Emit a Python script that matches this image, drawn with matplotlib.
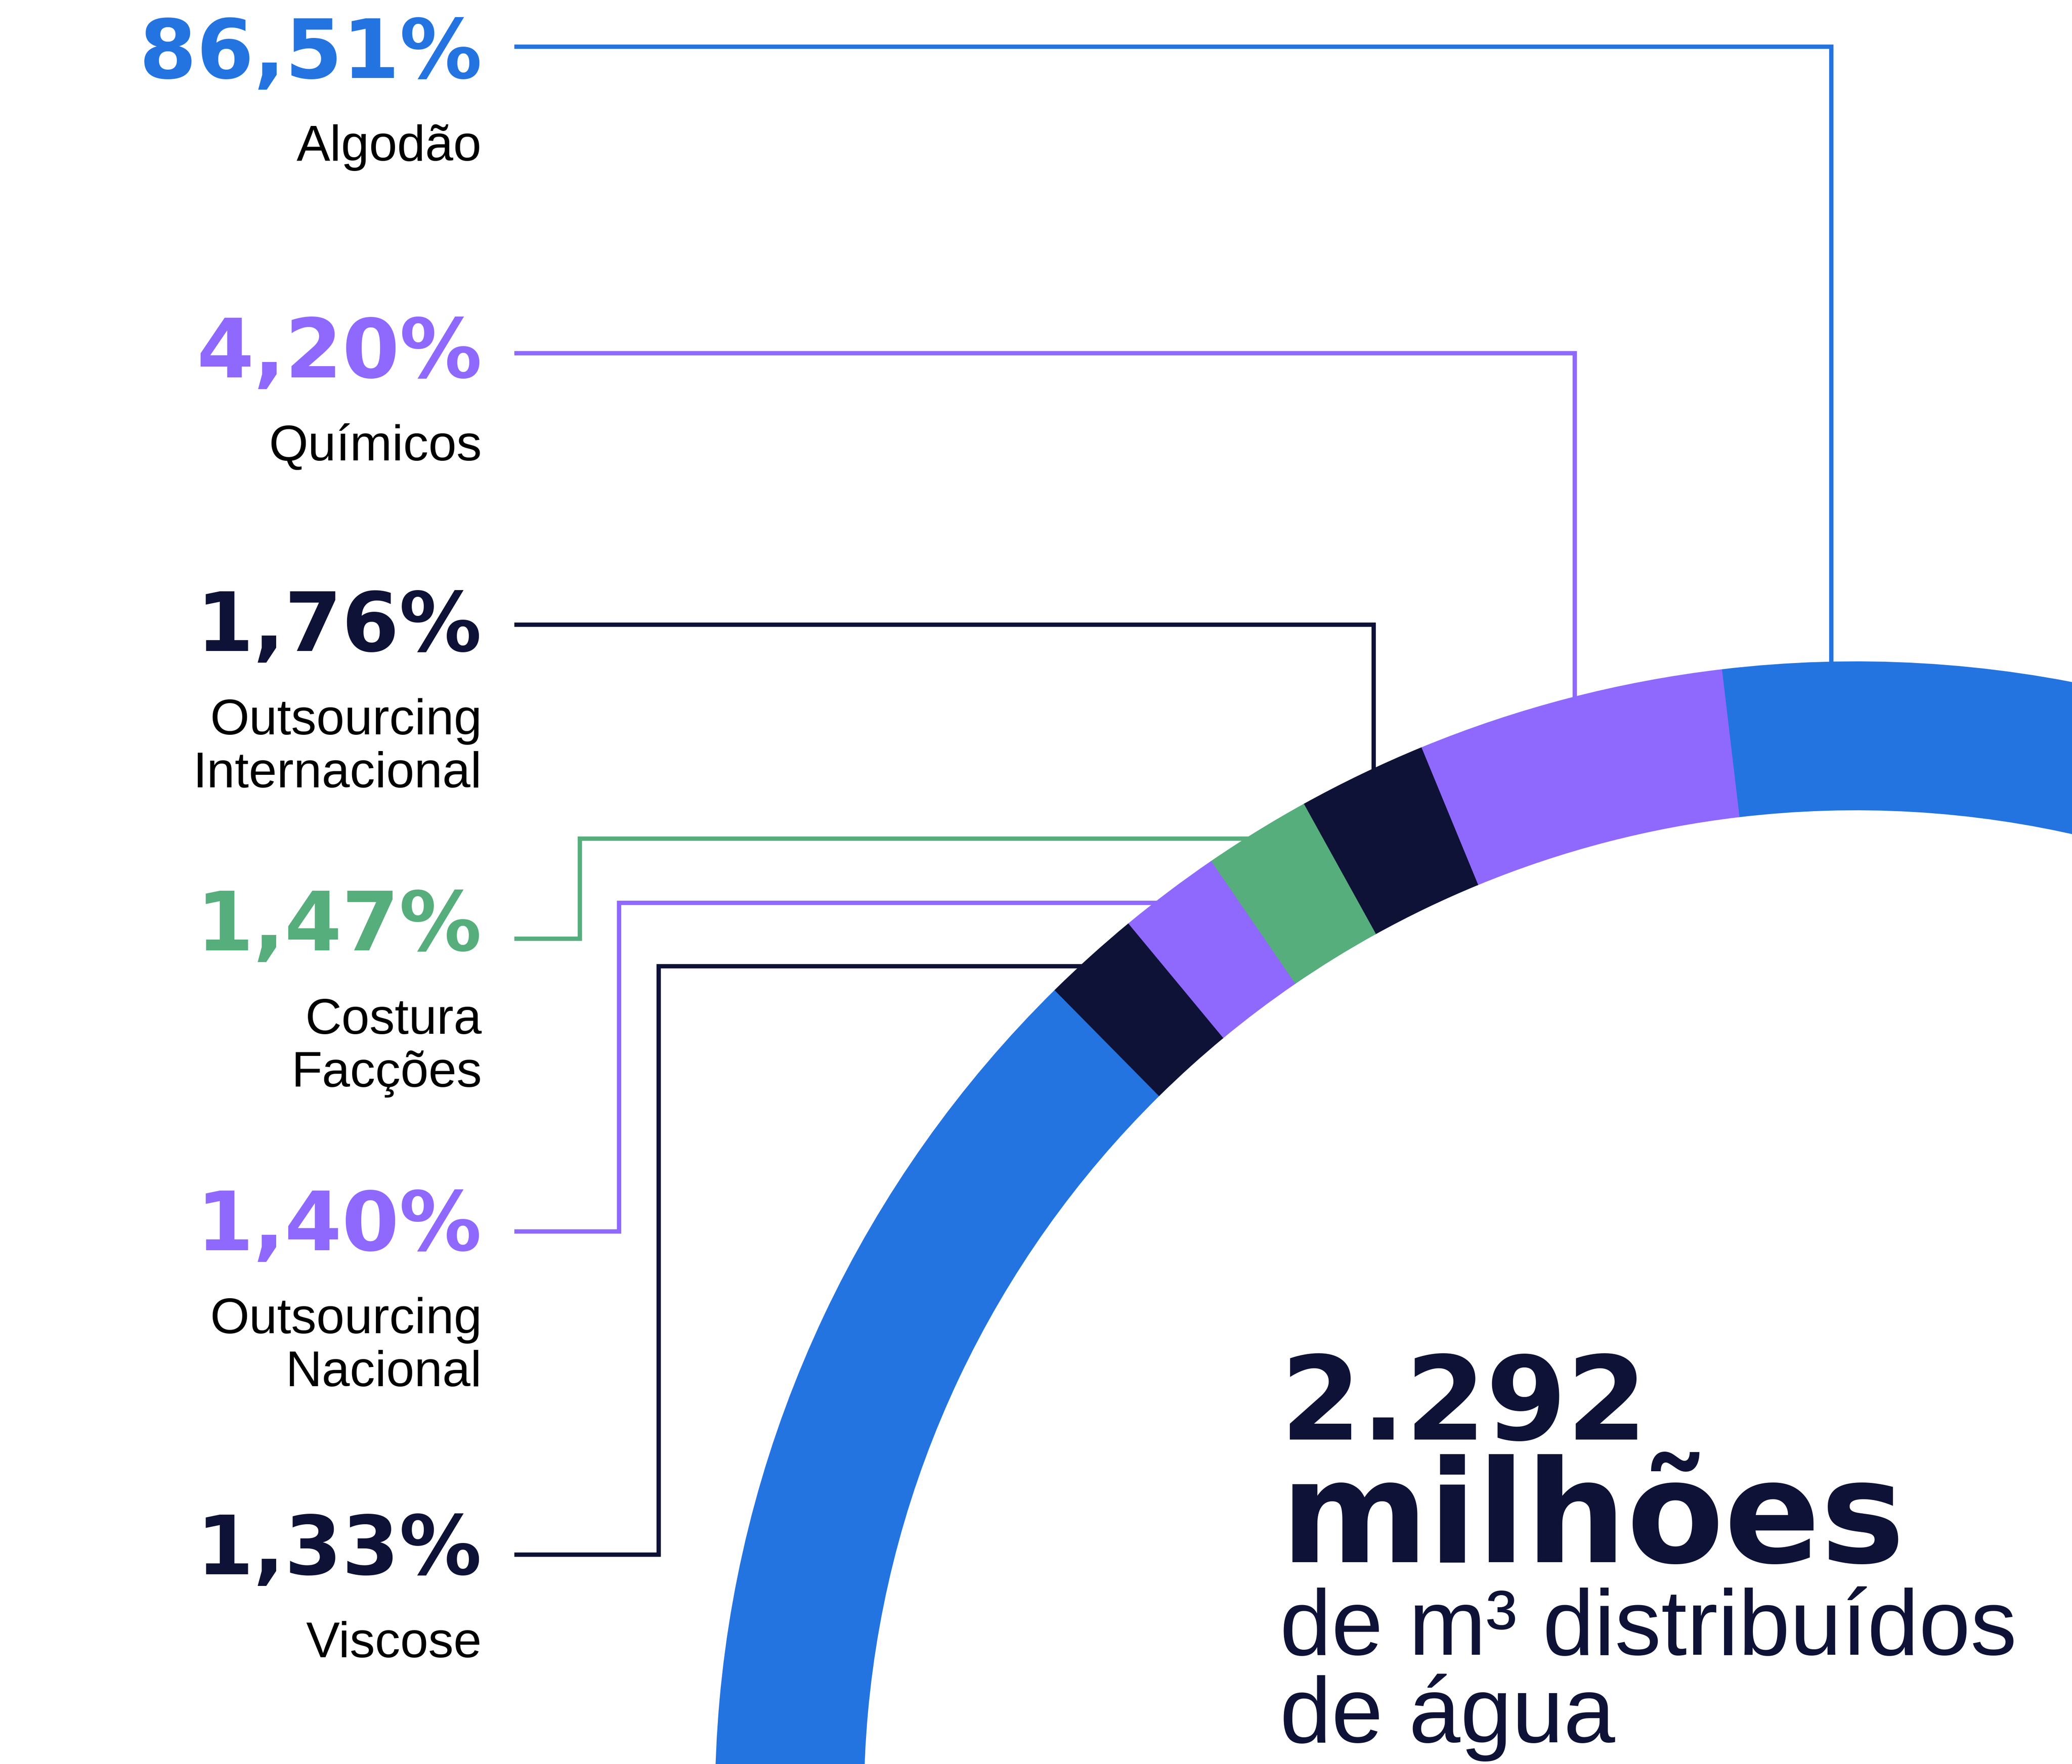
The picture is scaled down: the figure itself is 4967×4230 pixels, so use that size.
import numpy as np
import matplotlib.pyplot as plt

# Participação de cada etapa no consumo de água (%)
categorias = ["Algodão", "Químicos", "Outsourcing Internacional",
              "Costura Facções", "Outsourcing Nacional", "Viscose"]
participacao = [86.51, 4.20, 1.76, 1.47, 1.40, 1.33]
rotulos = [["Algodão"], ["Químicos"], ["Outsourcing", "Internacional"],
           ["Costura", "Facções"], ["Outsourcing", "Nacional"], ["Viscose"]]
total_milhoes_m3 = 2292

cores = ["#2374E1", "#8F69FE", "#0E1236", "#56AE7C", "#8F69FE", "#0E1236"]
azul_escuro = "#0E1236"

W, H = 4967, 4230
fig = plt.figure(figsize=(W / 100, H / 100), dpi=100)
ax = fig.add_axes([0, 0, 1, 1])

# anel (coordenadas em pixels, y cresce para baixo)
cx, cy = 4449, 4321
r_ext, espessura = 2734, 355
fatias, _ = ax.pie(participacao, colors=cores, center=(cx, cy), radius=r_ext,
                   startangle=-134.6, counterclock=False,
                   wedgeprops=dict(width=espessura, linewidth=1.5))
for f in fatias:
    f.set_edgecolor(f.get_facecolor())
    f.set_zorder(3)

ax.set_xlim(0, W)
ax.set_ylim(H, 0)
ax.set_aspect("auto")
ax.axis("off")

# percentuais e nomes à esquerda
x_txt = 1155
base_pct = [187, 905, 1561, 2279, 2998, 3775]
base_rot = [385, 1104, 1761, 2479, 3197, 3974]
entrelinha = 127

for v, linhas, cor, yp, yr in zip(participacao, rotulos, cores, base_pct, base_rot):
    ax.text(x_txt, yp, f"{v:.2f}".replace(".", ",") + "%", ha="right",
            va="baseline", fontsize=142, fontweight="bold",
            family="DejaVu Sans", color=cor)
    for i, linha in enumerate(linhas):
        ax.text(x_txt, yr + i * entrelinha, linha, ha="right", va="baseline",
                fontsize=87, family="Liberation Sans", color="black")

# linhas de chamada até o anel
r_meio = r_ext - espessura / 2
x_ini = 1233
y_linha = [112, 847, 1498, 2251, 2953, 3728]
x_desce = [4390, 3775, 3293]   # sobem ao topo do anel
x_sobe = [1390, 1484, 1579]    # dobram para cima e seguem à direita
y_sobe = [2011, 2165, 2317]
estilo = dict(lw=7.5, solid_joinstyle="miter", solid_capstyle="butt", zorder=1)

for i in range(3):
    x = x_desce[i]
    y_fim = cy - np.sqrt(r_meio ** 2 - (x - cx) ** 2)
    ax.plot([x_ini, x, x], [y_linha[i], y_linha[i], y_fim],
            color=cores[i], **estilo)

for j in range(3):
    i = j + 3
    yy = y_sobe[j]
    x_fim = cx - np.sqrt(r_meio ** 2 - (cy - yy) ** 2)
    ax.plot([x_ini, x_sobe[j], x_sobe[j], x_fim],
            [y_linha[i], y_linha[i], yy, yy], color=cores[i], **estilo)

# total no centro
ax.text(3070, 3452, f"{total_milhoes_m3:,}".replace(",", "."), ha="left",
        va="baseline", fontsize=200, fontweight="bold", family="DejaVu Sans",
        color=azul_escuro)
ax.text(3070, 3746, "milhões", ha="left", va="baseline", fontsize=245,
        fontweight="bold", family="DejaVu Sans", color=azul_escuro)
ax.text(3068, 3968, "de m³ distribuídos", ha="left", va="baseline",
        fontsize=160, family="Liberation Sans", color=azul_escuro)
ax.text(3068, 4178, "de água", ha="left", va="baseline",
        fontsize=160, family="Liberation Sans", color=azul_escuro)

fig.savefig("out.png", dpi=100, facecolor="white")
